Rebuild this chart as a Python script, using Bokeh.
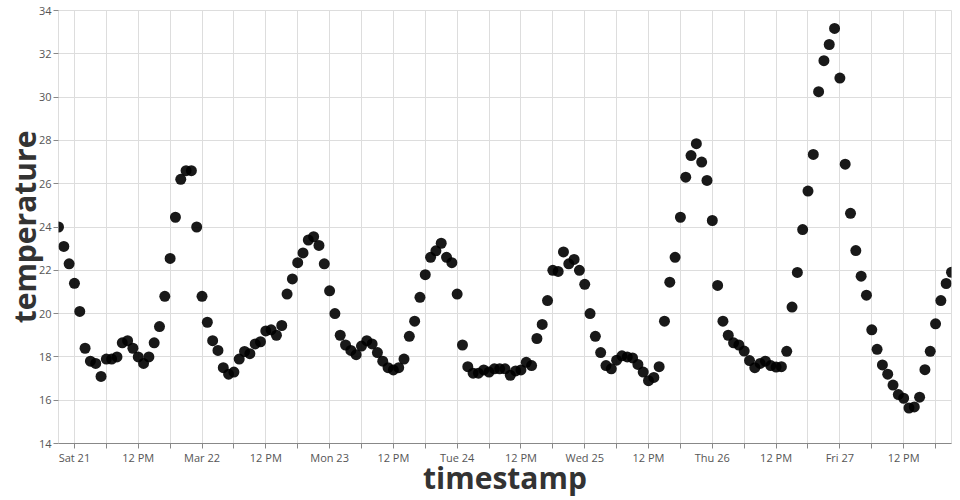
import pandas as pd
from bokeh.plotting import figure
from bokeh.models import ColumnDataSource, FixedTicker, Range1d
from bokeh.embed import file_html
from bokeh.resources import INLINE

start_time = "2020-03-20 21:00"
temperature = [
    24.0, 23.1, 22.3, 21.4, 20.1, 18.4, 17.8, 17.7, 17.1, 17.9,
    17.9, 18.0, 18.65, 18.75, 18.4, 18.0, 17.7, 18.0, 18.65, 19.4,
    20.8, 22.55, 24.45, 26.2, 26.6, 26.6, 24.0, 20.8, 19.6, 18.75,
    18.3, 17.5, 17.2, 17.3, 17.9, 18.25, 18.15, 18.6, 18.7, 19.2,
    19.25, 19.0, 19.45, 20.9, 21.6, 22.35, 22.8, 23.4, 23.55, 23.15,
    22.3, 21.05, 20.0, 19.0, 18.55, 18.3, 18.1, 18.5, 18.75, 18.6,
    18.2, 17.8, 17.5, 17.4, 17.5, 17.9, 18.95, 19.65, 20.75, 21.8,
    22.6, 22.9, 23.25, 22.6, 22.35, 20.9, 18.55, 17.55, 17.25, 17.25,
    17.4, 17.3, 17.45, 17.45, 17.45, 17.15, 17.35, 17.4, 17.75, 17.6,
    18.85, 19.5, 20.6, 22.0, 21.95, 22.85, 22.3, 22.5, 22.0, 21.35,
    20.0, 18.95, 18.2, 17.6, 17.45, 17.85, 18.05, 18.0, 17.95, 17.65,
    17.3, 16.9, 17.05, 17.55, 19.65, 21.45, 22.6, 24.45, 26.3, 27.3,
    27.85, 27.0, 26.15, 24.3, 21.3, 19.65, 19.0, 18.65, 18.55, 18.27,
    17.83, 17.5, 17.7, 17.8, 17.6, 17.53, 17.55, 18.26, 20.3, 21.9,
    23.88, 25.66, 27.35, 30.25, 31.68, 32.43, 33.17, 30.88, 26.9, 24.63,
    22.91, 21.73, 20.85, 19.25, 18.35, 17.63, 17.2, 16.7, 16.26, 16.09,
    15.64, 15.69, 16.14, 17.41, 18.26, 19.53, 20.6, 21.39, 21.91,
]
tick_times = ["2020-03-21 00:00", "2020-03-21 12:00", "2020-03-22 00:00", "2020-03-22 12:00",
              "2020-03-23 00:00", "2020-03-23 12:00", "2020-03-24 00:00", "2020-03-24 12:00",
              "2020-03-25 00:00", "2020-03-25 12:00", "2020-03-26 00:00", "2020-03-26 12:00",
              "2020-03-27 00:00", "2020-03-27 12:00"]
tick_labels = ["Sat 21", "12 PM", "Mar 22", "12 PM", "Mon 23", "12 PM", "Tue 24", "12 PM",
               "Wed 25", "12 PM", "Thu 26", "12 PM", "Fri 27", "12 PM"]
minor_times = ["2020-03-21 06:00", "2020-03-21 18:00", "2020-03-22 06:00", "2020-03-22 18:00",
               "2020-03-23 06:00", "2020-03-23 18:00", "2020-03-24 06:00", "2020-03-24 18:00",
               "2020-03-25 06:00", "2020-03-25 18:00", "2020-03-26 06:00", "2020-03-26 18:00",
               "2020-03-27 06:00", "2020-03-27 18:00"]
y_ticks = [14, 16, 18, 20, 22, 24, 26, 28, 30, 32, 34]

timestamps = pd.date_range(start=start_time, periods=len(temperature), freq="h")
src = ColumnDataSource(dict(timestamp=timestamps, temperature=temperature))

def ms(t):
    return int(pd.Timestamp(t).value // 10**6)

major_ms = [ms(t) for t in tick_times]
minor_ms = [ms(t) for t in minor_times]

p = figure(x_axis_type="datetime", output_backend="svg", toolbar_location=None,
           width=960, height=500,
           min_border_left=58, min_border_right=9, min_border_top=10, min_border_bottom=56,
           x_range=Range1d(timestamps[0], timestamps[-1]), y_range=Range1d(14, 34))

p.scatter("timestamp", "temperature", source=src, size=11,
          fill_color="black", fill_alpha=0.9, line_color=None)

p.xaxis.ticker = FixedTicker(ticks=major_ms, minor_ticks=minor_ms)
p.xaxis.major_label_overrides = {m: l for m, l in zip(major_ms, tick_labels)}
p.yaxis.ticker = FixedTicker(ticks=y_ticks, minor_ticks=[])

p.xgrid.minor_grid_line_color = "#dddddd"
for g in (p.xgrid, p.ygrid):
    g.grid_line_color = "#dddddd"
    g.grid_line_width = 1
p.outline_line_color = "#dddddd"

for ax in (p.xaxis, p.yaxis):
    ax.axis_line_color = "#888888"
    ax.major_tick_line_color = "#888888"
    ax.minor_tick_line_color = "#888888"
    ax.major_tick_out = 5
    ax.major_tick_in = 0
    ax.minor_tick_in = 0
    ax.major_label_text_font = "Open Sans"
    ax.major_label_text_font_size = "11px"
    ax.major_label_text_color = "#555555"
    ax.major_label_standoff = 2
    ax.axis_label_text_font = "Open Sans"
    ax.axis_label_text_font_style = "bold"
    ax.axis_label_text_font_size = "30px"
    ax.axis_label_text_color = "#333333"

p.xaxis.major_label_standoff = 1
p.xaxis.axis_label_standoff = -11
p.yaxis.axis_label_standoff = -9
p.xaxis.minor_tick_out = 5
p.yaxis.minor_tick_out = 0
p.yaxis.axis_line_color = None
p.xaxis.axis_label = "timestamp"
p.yaxis.axis_label = "temperature"

open("out.html", "w").write(file_html(p, INLINE))
